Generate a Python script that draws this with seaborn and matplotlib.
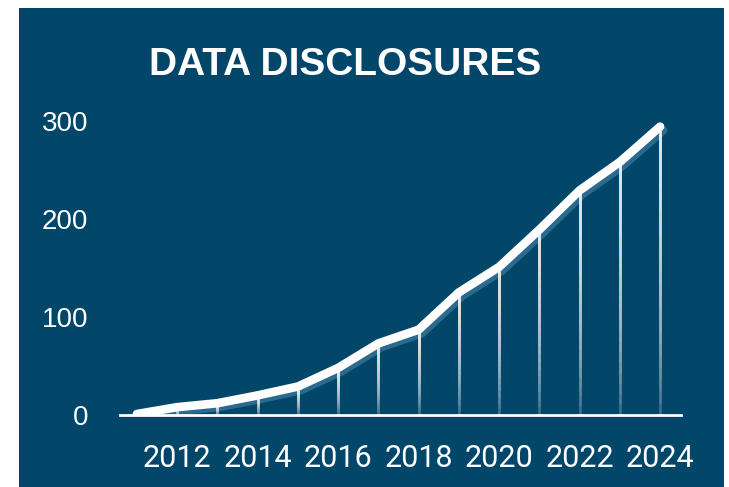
import numpy as np
import pandas as pd
import matplotlib
matplotlib.use("Agg")
import matplotlib.pyplot as plt
import matplotlib.patheffects as pe
from matplotlib.collections import LineCollection
from matplotlib.patches import Rectangle
import seaborn as sns

# ---- data ----
years = [2011, 2012, 2013, 2014, 2015, 2016, 2017, 2018, 2019, 2020, 2021, 2022, 2023, 2024]
disclosures = [1, 8, 12, 20, 29, 48, 73, 87, 125, 151, 189, 229, 258, 294]
x_ticks = [2012, 2014, 2016, 2018, 2020, 2022, 2024]
x_tick_labels = ["2012", "2014", "2016", "2018", "2020", "2022", "2024"]
y_ticks = [0, 100, 200, 300]
y_tick_labels = ["0", "100", "200", "300"]
title = "DATA DISCLOSURES"

BG = "#02466a"
SHADOW = "#2a6a8f"

sns.set_theme(style="white")
plt.rcParams["font.family"] = ["Liberation Sans", "DejaVu Sans"]

W, H = 729, 487
fig = plt.figure(figsize=(W / 100, H / 100), dpi=100)
fig.patch.set_facecolor("white")

# dark panel
fig.patches.append(Rectangle((19 / W, 0), (724 - 19) / W, (487 - 8) / H,
                             transform=fig.transFigure, facecolor=BG,
                             edgecolor="none", zorder=-5))

ax = fig.add_axes([120 / W, 1 - 415 / H, (681 - 120) / W, (415 - 110) / H])
ax.set_zorder(2)
ax.set_facecolor("none")

df = pd.DataFrame({"year": years, "value": disclosures})

# gradient drop lines: overlapping translucent segments, denser toward the top
k = 24
for j in range(k + 1):
    frac = j / k
    segs = [[(xv, yv * frac * 0.999), (xv, yv)] for xv, yv in zip(years, disclosures)]
    alpha = 0.22 if j == 0 else 0.085
    ax.add_collection(LineCollection(segs, colors=[(1, 1, 1, alpha)], linewidths=2.0,
                                     zorder=5, capstyle="butt"))

sns.lineplot(data=df, x="year", y="value", ax=ax, color="white", linewidth=6.2,
             solid_capstyle="round", solid_joinstyle="round", zorder=4,
             path_effects=[pe.SimpleLineShadow(offset=(2.2, -2.6), shadow_color=SHADOW, alpha=1.0),
                           pe.Normal()])

ax.set_xlim(2010.58, 2024.52)
ax.set_ylim(0, 311)
ax.set_xlabel("")
ax.set_ylabel("")

ax.set_xticks(x_ticks)
ax.set_xticklabels(x_tick_labels, fontsize=22, color="white", family=["Roboto", "DejaVu Sans"])
ax.set_yticks(y_ticks)
ax.set_yticklabels(y_tick_labels, fontsize=20, color="white")
ax.tick_params(axis="x", length=0, pad=21)
ax.tick_params(axis="y", length=0, pad=23)

for s in ["top", "right", "left"]:
    ax.spines[s].set_visible(False)
ax.spines["bottom"].set_color("white")
ax.spines["bottom"].set_linewidth(2)
ax.spines["bottom"].set_zorder(6)
ax.grid(False)

fig.text(345 / W, 1 - 75 / H, title, ha="center", va="baseline",
         fontsize=28, fontweight="bold", color="white", zorder=5)

fig.savefig("out.png", dpi=100, facecolor=fig.get_facecolor())
